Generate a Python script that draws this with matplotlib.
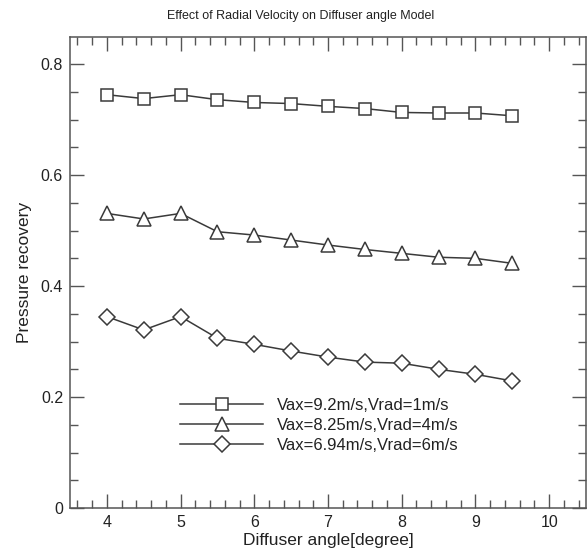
import matplotlib
matplotlib.use("Agg")
import matplotlib.pyplot as plt
from matplotlib.ticker import MultipleLocator

angles = [4, 4.5, 5, 5.5, 6, 6.5, 7, 7.5, 8, 8.5, 9, 9.5]
s1 = [0.745, 0.738, 0.745, 0.736, 0.731, 0.729, 0.724, 0.720, 0.713, 0.712, 0.712, 0.707]
s2 = [0.531, 0.521, 0.531, 0.498, 0.492, 0.483, 0.474, 0.466, 0.459, 0.452, 0.450, 0.441]
s3 = [0.345, 0.321, 0.345, 0.306, 0.295, 0.283, 0.272, 0.263, 0.261, 0.250, 0.241, 0.229]
labels = ["Vax=9.2m/s,Vrad=1m/s", "Vax=8.25m/s,Vrad=4m/s", "Vax=6.94m/s,Vrad=6m/s"]
title = "Effect of Radial Velocity on Diffuser angle Model"

plt.rcParams['font.family'] = ['Liberation Sans', 'DejaVu Sans']

fig = plt.figure(figsize=(5.87, 5.52), dpi=100)
ax = fig.add_axes([70/587, 1-508/552, 516/587, 471/552])

lc = '#3a3a3a'
ax.plot(angles, s1, color=lc, lw=1.1, marker='s', ms=9, mfc='white', mec=lc, mew=1.1, label=labels[0])
ax.plot(angles, s2, color=lc, lw=1.1, marker='^', ms=9.5, mfc='white', mec=lc, mew=1.1, label=labels[1])
ax.plot(angles, s3, color=lc, lw=1.1, marker='D', ms=8.2, mfc='white', mec=lc, mew=1.1, label=labels[2])

ax.set_xlim(3.5, 10.5)
ax.set_ylim(0, 0.849)
ax.xaxis.set_major_locator(MultipleLocator(1))
ax.xaxis.set_minor_locator(MultipleLocator(0.2))
ax.yaxis.set_minor_locator(MultipleLocator(0.05))
ax.set_yticks([0, 0.2, 0.4, 0.6, 0.8])
ax.set_yticklabels(['0', '0.2', '0.4', '0.6', '0.8'])

ax.tick_params(which='both', direction='in', top=True, right=True, color='#555555')
ax.tick_params(which='major', length=10, width=1, labelsize=11.5, pad=5, labelcolor='#222222')
ax.tick_params(which='minor', length=6, width=1)
for sp in ax.spines.values():
    sp.set_color('#555555')
    sp.set_linewidth(1.1)

ax.set_xlabel("Diffuser angle[degree]", fontsize=12.5, color='#222222', labelpad=2)
ax.set_ylabel("Pressure recovery", fontsize=12.5, color='#222222', labelpad=6)

fig.text(301/587, 1-16/552, title, ha='center', va='center', fontsize=9, color='#222222')

leg = ax.legend(loc='upper left', bbox_to_anchor=(0.2, 0.248), frameon=False,
                fontsize=12, handlelength=5.0, handletextpad=0.85, labelspacing=0.3,
                borderaxespad=0, markerscale=1.0)
for t in leg.get_texts():
    t.set_color('#222222')

fig.savefig("out.png", dpi=100)
